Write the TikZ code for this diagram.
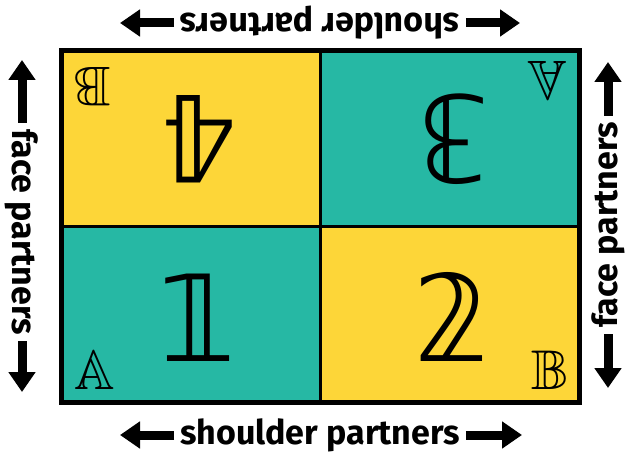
\documentclass[tikz,border=0pt]{standalone}
\usepackage{amssymb}
\usepackage{fontspec}
\setmainfont{Fira Sans}
\newfontfamily\dblfont{DejaVu Sans}
\usetikzlibrary{arrows.meta}
\definecolor{sunny}{RGB}{253,214,56}
\definecolor{seagreen}{RGB}{38,184,164}

\begin{document}
\begin{tikzpicture}[x=1pt,y=-1pt,
  cell/.style={draw,line width=3pt,minimum width=258pt,minimum height=175pt,inner sep=0pt},
  num/.style={font=\dblfont\fontsize{120}{120}\selectfont,inner sep=0pt},
  corner/.style={font=\fontsize{56}{56}\selectfont,inner sep=0pt},
  lbl/.style={font=\bfseries\fontsize{34}{34}\selectfont,inner sep=6pt},
  bigarrow/.style={-{Triangle[length=20pt,width=26pt]},line width=9pt}]
  \useasboundingbox[fill=white] (0,0) rectangle (628,454);
  % seats
  \node[cell,fill=sunny] (c4) at (191,139) {};
  \node[cell,fill=seagreen] (c3) at (449.5,139) {};
  \node[cell,fill=seagreen] (c1) at (191,314) {};
  \node[cell,fill=sunny] (c2) at (449.5,314) {};
  \draw[line width=4pt] (c4.north west) rectangle (c2.south east);
  % numbers and letters
  \node[num,rotate=180] (n4) at ([xshift=8pt]c4) {𝟜};
  \node[num,rotate=180] (n3) at ([xshift=5pt]c3) {𝟛};
  \node[num] (n1) at ([xshift=7pt,yshift=-4pt]c1) {𝟙};
  \node[num] (n2) at ([xshift=2pt,yshift=-3pt]c2) {𝟚};
  \node[corner,rotate=180] (b4) at (92,87) {$\mathbb{B}$};
  \node[corner,rotate=180] (a3) at (547,81) {$\mathbb{A}$};
  \node[corner] (a1) at (95,370) {$\mathbb{A}$};
  \node[corner] (b2) at (550,370) {$\mathbb{B}$};
  % partner labels
  \node[lbl] (bot) at (320,435) {shoulder partners};
  \node[lbl,rotate=180] (top) at (320,23) {shoulder partners};
  \node[lbl,rotate=-90] (lft) at (22,232) {face partners};
  \node[lbl,rotate=90] (rgt) at (608,225) {face partners};
  \coordinate (botL) at (120,435);
  \coordinate (botR) at (522,435);
  \coordinate (topL) at (120,23);
  \coordinate (topR) at (520,23);
  \coordinate (lftU) at (22,60);
  \coordinate (lftD) at (22,392);
  \coordinate (rgtU) at (608,62);
  \coordinate (rgtD) at (608,388);
  \draw[bigarrow] (bot.west) -- (botL);
  \draw[bigarrow] (bot.east) -- (botR);
  \draw[bigarrow] (top.east) -- (topL);
  \draw[bigarrow] (top.west) -- (topR);
  \draw[bigarrow] (lft.west) -- (lftU);
  \draw[bigarrow] (lft.east) -- (lftD);
  \draw[bigarrow] (rgt.east) -- (rgtU);
  \draw[bigarrow] (rgt.west) -- (rgtD);
\end{tikzpicture}
\end{document}
